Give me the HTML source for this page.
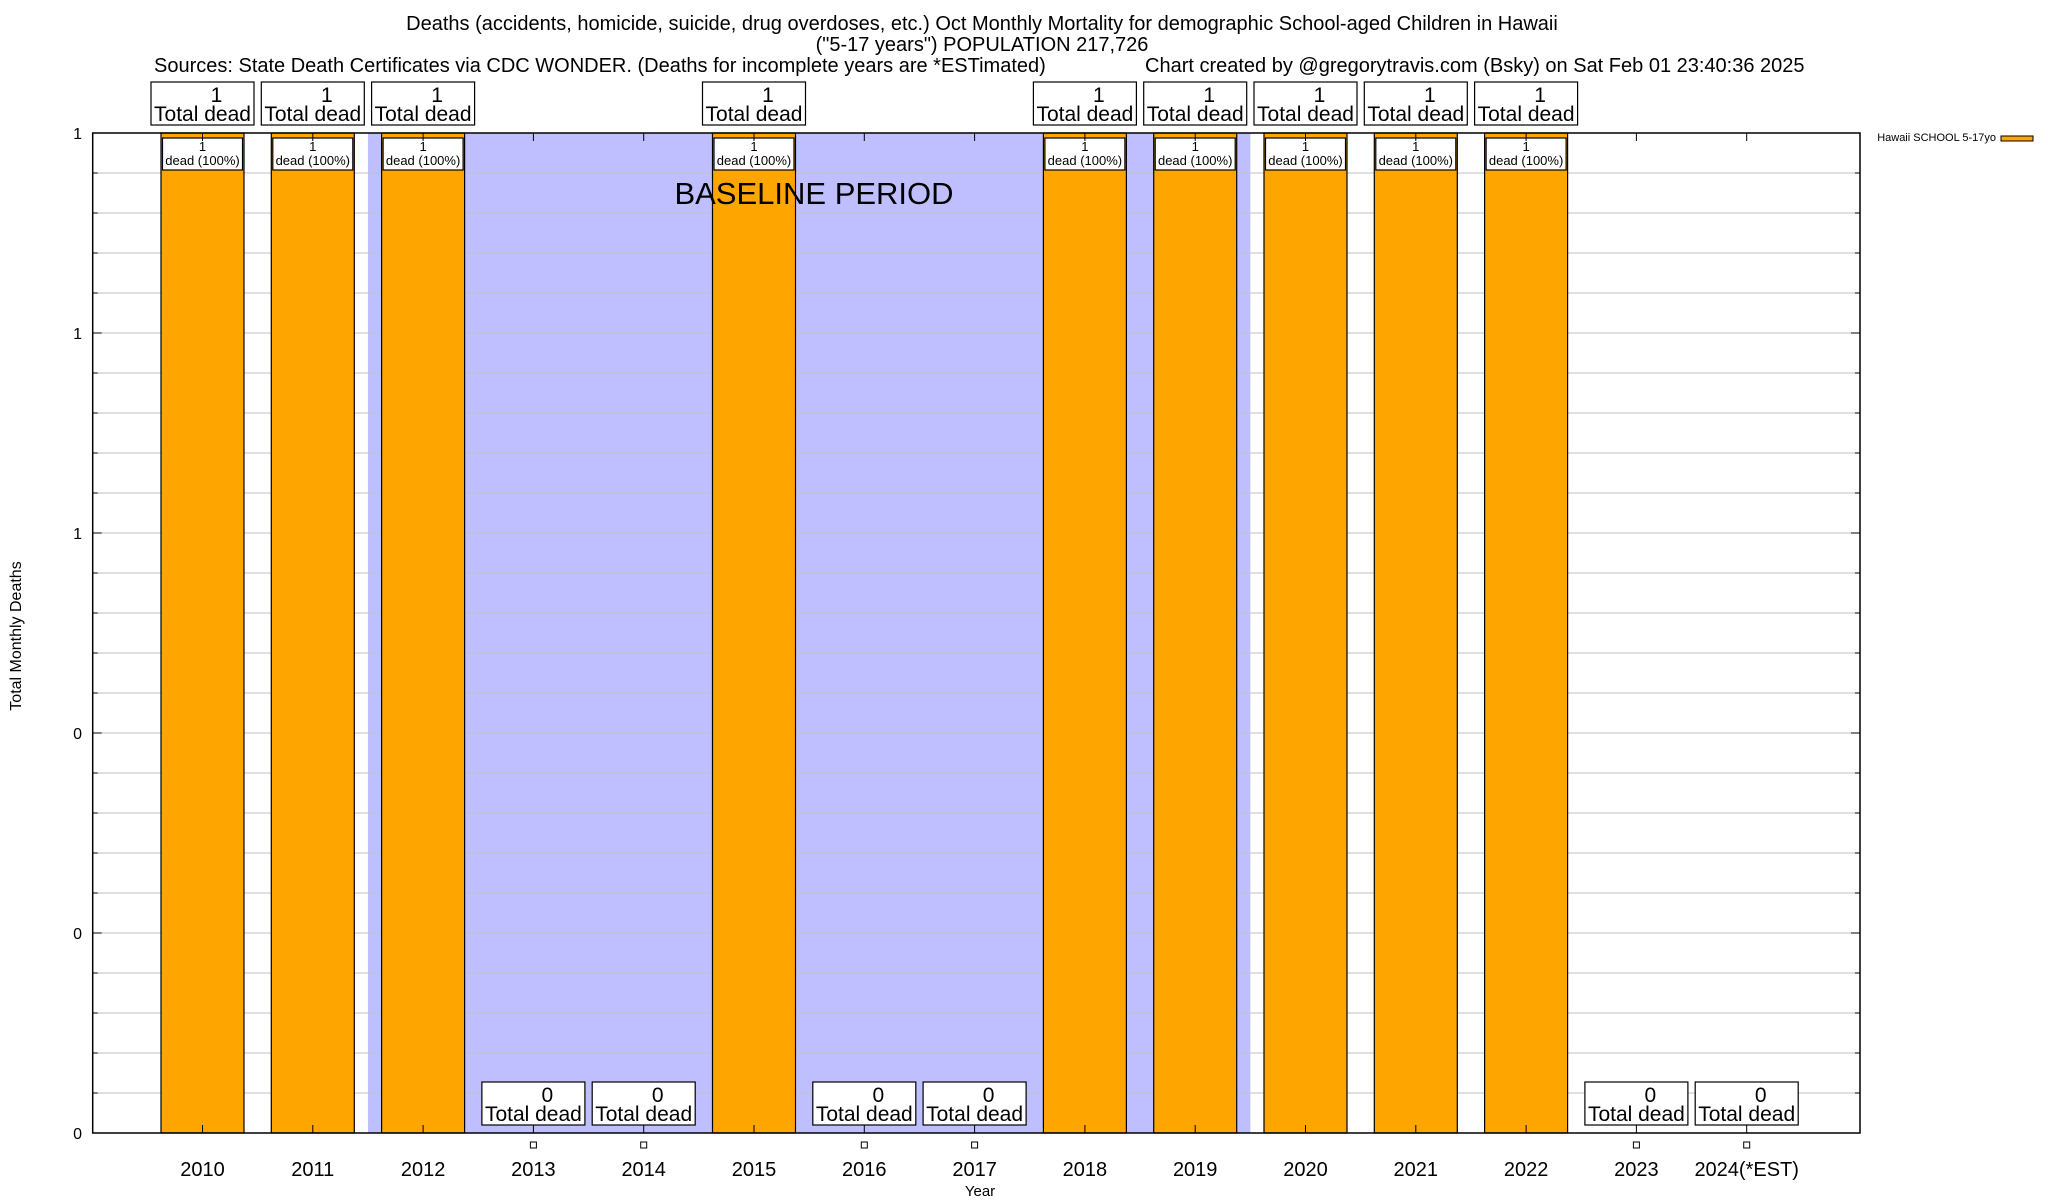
<!DOCTYPE html>
<html><head><meta charset="utf-8"><style>
html,body{margin:0;padding:0;background:#fff;}
svg{display:block;font-family:"Liberation Sans",sans-serif;}
</style></head><body>
<svg id="chart" width="2048" height="1200" viewBox="0 0 2048 1200" xmlns="http://www.w3.org/2000/svg">
<g font-size="20" text-anchor="middle">
<text x="982" y="30">Deaths (accidents, homicide, suicide, drug overdoses, etc.) Oct Monthly Mortality for demographic School-aged Children in Hawaii</text>
<text x="982" y="51">("5-17 years") POPULATION 217,726</text>
<text x="154" y="72" text-anchor="start">Sources: State Death Certificates via CDC WONDER. (Deaths for incomplete years are *ESTimated)</text>
<text x="1145" y="72" text-anchor="start">Chart created by @gregorytravis.com (Bsky) on Sat Feb 01 23:40:36 2025</text>
</g>
<g id="plot"></g>
<text transform="translate(21,636) rotate(-90)" font-size="16" text-anchor="middle">Total Monthly Deaths</text>
<text x="980" y="1196" font-size="15" text-anchor="middle">Year</text>
<g>
<text x="1996" y="141" font-size="11" text-anchor="end">Hawaii SCHOOL 5-17yo</text>
<rect x="2001" y="136" width="32" height="5" fill="#ffa500" stroke="#000" stroke-width="1"/>
</g>
</svg>
<script>
const categories=["2010","2011","2012","2013","2014","2015","2016","2017","2018","2019","2020","2021","2022","2023","2024(*EST)"];
const deaths=[1,1,1,0,0,1,0,0,1,1,1,1,1,0,0];
const pctLabels=["100%","100%","100%","","","100%","","","100%","100%","100%","100%","100%","",""];
const yTicks=[0,0.2,0.4,0.6,0.8,1];
const baseline=[1.5,9.5];
const NS="http://www.w3.org/2000/svg";
const L=92.7,R=1860,T=133,B=1133;
const xs=i=>202.5+110.3*i;
const ys=v=>B-(v-0)/(1-0)*(B-T);
const g=document.getElementById('plot');
function el(t,a,p){const e=document.createElementNS(NS,t);for(const k in a)e.setAttribute(k,a[k]);(p||g).appendChild(e);return e;}
const sh=el('rect',{x:xs(baseline[0]),y:T,width:xs(baseline[1])-xs(baseline[0]),height:B-T,fill:'#bfbfff'});


for(let k=1;k<25;k++){const v=k*0.04;const y=ys(v);
 const gl=el('line',{x1:L,x2:R,y1:y,y2:y,stroke:'#c0c0c0','stroke-width':1});
 
 
 const major=(k%5===0);
 el('line',{x1:L,x2:L+(major?9:5),y1:y,y2:y,stroke:'#000'});
 el('line',{x1:R,x2:R-(major?9:5),y1:y,y2:y,stroke:'#000'});
}
yTicks.forEach(v=>{const t=el('text',{x:82,y:ys(v)+6,'font-size':16,'text-anchor':'end'});t.textContent=v.toFixed(0);
 
 });
const bw=83;
categories.forEach((c,i)=>{
 const cx=xs(i),v=deaths[i];
 if(v>0){
  const r=el('rect',{x:cx-bw/2,y:ys(v),width:bw,height:B-ys(v),fill:'#ffa500',stroke:'#000','stroke-width':1.2});
  
  
  const ib=el('rect',{x:cx-bw/2+1.5,y:ys(v)+5,width:bw-3,height:32,fill:'#fff',stroke:'#000','stroke-width':1.2});
  
  
  const t1=el('text',{x:cx,y:ys(v)+18,'font-size':13,'text-anchor':'middle'});t1.textContent=v;
  
  
  const t2=el('text',{x:cx,y:ys(v)+32,'font-size':13,'text-anchor':'middle'});t2.textContent='dead ('+pctLabels[i]+')';
  
  
 } else {
  const sq=el('rect',{x:cx-3,y:1142,width:6,height:6,fill:'#fff',stroke:'#000','stroke-width':1});
  
  
 }
 const by=v>0?82:1082;
 const tb=el('rect',{x:cx-51.5,y:by,width:103,height:43,fill:'#fff',stroke:'#000','stroke-width':1.2});
 
 
 const a=el('text',{x:cx+14,y:by+20,'font-size':21,'text-anchor':'middle'});a.textContent=v;
 
 
 const b=el('text',{x:cx,y:by+39,'font-size':21,'text-anchor':'middle'});b.textContent='Total dead';
 
 
 el('line',{x1:cx,x2:cx,y1:B,y2:B-8,stroke:'#000'});
 el('line',{x1:cx,x2:cx,y1:T,y2:T+8,stroke:'#000'});
 const xl=el('text',{x:cx,y:1176,'font-size':20,'text-anchor':'middle'});xl.textContent=c;
 
 
});
const bt=el('text',{x:814,y:204,'font-size':31,'text-anchor':'middle'});bt.textContent='BASELINE PERIOD';


const fr=el('rect',{x:L,y:T,width:R-L,height:B-T,fill:'none',stroke:'#000','stroke-width':1.5});


</script>
</body></html>
